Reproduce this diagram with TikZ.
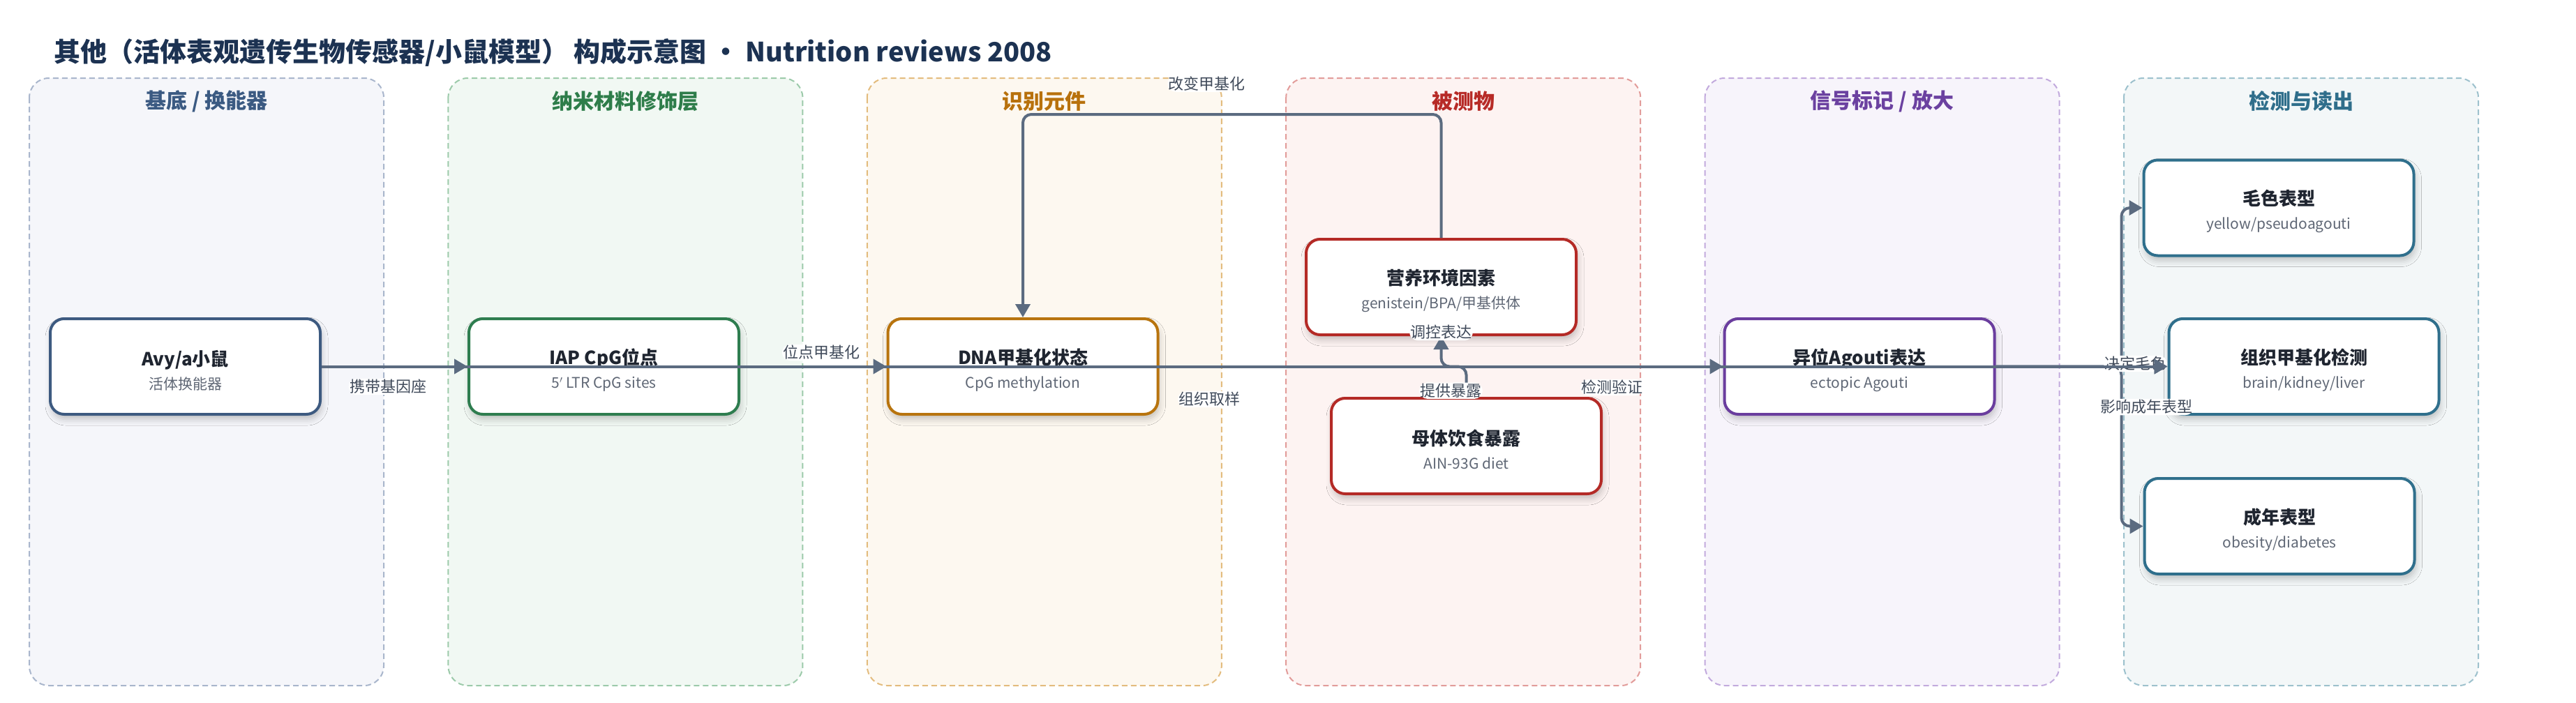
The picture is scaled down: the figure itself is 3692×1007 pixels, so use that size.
\documentclass[tikz,border=0pt]{standalone}
\usepackage{fontspec}
\setmainfont{Noto Sans CJK SC}
\usepackage{tikz}
\usetikzlibrary{arrows.meta, shadows.blur}

\definecolor{titlenavy}{HTML}{1C3252}
\definecolor{boxdark}{HTML}{1F2530}
\definecolor{subgray}{HTML}{5F6775}
\definecolor{lblgray}{HTML}{404A5A}
\definecolor{edgegray}{HTML}{5B6B80}
% lane colours: line, fill, title, node border
\definecolor{Aline}{HTML}{A9B6CC}\definecolor{Afill}{HTML}{F5F6FA}\definecolor{Atitle}{HTML}{3B5A82}\definecolor{Anode}{HTML}{3D5A80}
\definecolor{Bline}{HTML}{9CCAAA}\definecolor{Bfill}{HTML}{F1F8F3}\definecolor{Btitle}{HTML}{2E7D4A}\definecolor{Bnode}{HTML}{2E7D4F}
\definecolor{Cline}{HTML}{E3BC7E}\definecolor{Cfill}{HTML}{FDF8F0}\definecolor{Ctitle}{HTML}{B8710C}\definecolor{Cnode}{HTML}{B8740E}
\definecolor{Dline}{HTML}{E29C9A}\definecolor{Dfill}{HTML}{FDF3F2}\definecolor{Dtitle}{HTML}{B72B27}\definecolor{Dnode}{HTML}{B42A26}
\definecolor{Eline}{HTML}{C2AADD}\definecolor{Efill}{HTML}{F7F4FB}\definecolor{Etitle}{HTML}{6B41A0}\definecolor{Enode}{HTML}{6A3D9E}
\definecolor{Fline}{HTML}{9DC1CD}\definecolor{Ffill}{HTML}{F3F7F8}\definecolor{Ftitle}{HTML}{2F6E8B}\definecolor{Fnode}{HTML}{2F6F8C}

\newcommand{\nodetxt}[2]{{\fontsize{26}{34}\selectfont\bfseries\color{boxdark}\rule{0pt}{33pt}#1}\\{\color{subgray}#2}}

\begin{document}
\begin{tikzpicture}[x=1pt, y=-1pt,
    lane/.style={draw=#1line, fill=#1fill, dash pattern=on 8pt off 5pt, line width=2pt, rounded corners=28pt},
    lanetitle/.style={text=#1title, font=\fontsize{30}{30}\selectfont\bfseries},
    box/.style={draw=#1node, fill=white, line width=4pt, rounded corners=20pt,
      minimum width=387pt, minimum height=137pt, align=center, inner sep=0pt,
      font=\fontsize{21}{34}\selectfont,
      blur shadow={shadow xshift=2pt, shadow yshift=-7pt, shadow blur radius=9pt, shadow opacity=22}},
    conn/.style={draw=edgegray, line width=4pt, rounded corners=12pt, -{Triangle[length=19pt, width=21pt]}},
    lbl/.style={fill=white, inner sep=1.5pt, text=lblgray, font=\fontsize{22}{22}\selectfont}]
    \useasboundingbox (0,0) rectangle (3692,1007);

    % title
    \node[anchor=west, text=titlenavy, font=\fontsize{38}{38}\selectfont\bfseries] (title) at (74,75)
      {其他（活体表观遗传生物传感器/小鼠模型） 构成示意图 · Nutrition reviews 2008};

    % draw lanes
    \foreach \i/\ttl/\cc in {0/{基底 / 换能器}/A, 1/纳米材料修饰层/B, 2/识别元件/C,
                             3/被测物/D, 4/{信号标记 / 放大}/E, 5/检测与读出/F} {
      \filldraw[lane=\cc] (42+600.4*\i, 112) rectangle ++(508, 871);
      \node[lanetitle=\cc] at (296+600.4*\i, 145) {\ttl};
    }

    % draw boxes
    \node[box=A] (avy) at (265.5,525.5) {\nodetxt{Avy/a小鼠}{活体换能器}};
    \node[box=B] (iap) at (865.5,525.5) {\nodetxt{IAP CpG位点}{5$'$ LTR CpG sites}};
    \node[box=C] (dna) at (1466,525.5) {\nodetxt{DNA甲基化状态}{CpG methylation}};
    \node[box=D] (nutr) at (2065.5,411.5) {\nodetxt{营养环境因素}{genistein/BPA/甲基供体}};
    \node[box=D] (diet) at (2101.5,639.5) {\nodetxt{母体饮食暴露}{AIN-93G diet}};
    \node[box=E] (agouti) at (2665,525.5) {\nodetxt{异位Agouti表达}{ectopic Agouti}};
    \node[box=F] (coat) at (3266,298) {\nodetxt{毛色表型}{yellow/pseudoagouti}};
    \node[box=F] (tissue) at (3302,525.5) {\nodetxt{组织甲基化检测}{brain/kidney/liver}};
    \node[box=F] (adult) at (3267,754.5) {\nodetxt{成年表型}{obesity/diabetes}};
    \coordinate (loop) at (0,164);

    % draw connectors
    \draw[conn] (avy.east) -- (iap.west) node[lbl, pos=0.455, yshift=-29pt] {携带基因座};
    \draw[conn] (iap.east) -- (dna.west) node[lbl, pos=0.555, yshift=20pt] {位点甲基化};
    \draw[conn] (nutr.north) -- (nutr.north |- loop)
      -- node[lbl, pos=0.56, yshift=44pt] {改变甲基化} (dna.north |- loop) -- (dna.north);
    \draw[conn] (diet.north) -- node[lbl, pos=0.2, xshift=-22pt] {提供暴露} (diet.north |- dna.center)
      -- (nutr.south |- dna.center) -- (nutr.south);
    \draw[conn] (dna.east) -- (agouti.west) node[lbl, midway, yshift=49pt] {调控表达};
    \draw[conn] (agouti.east) -| node[lbl, pos=0.5, xshift=36pt, yshift=-58pt] {影响成年表型}
      ([xshift=-31pt]adult.west) -- (adult.west);
    \draw[conn] (agouti.east) -| node[lbl, pos=0.5, xshift=20pt, yshift=4pt] {决定毛色}
      ([xshift=-30pt]coat.west) -- (coat.west);
    \draw[conn] (avy.east) -- (tissue.west) node[lbl, pos=0.481, yshift=-47pt] {组织取样};
    \draw[conn] (dna.east) -- (tissue.west) node[lbl, pos=0.449, yshift=-30pt] {检测验证};
\end{tikzpicture}
\end{document}
